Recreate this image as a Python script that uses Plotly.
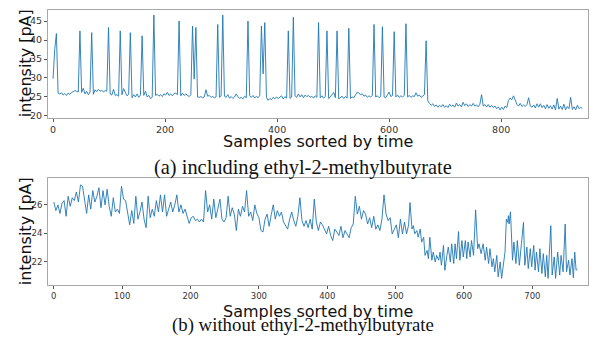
import plotly.graph_objects as go

# ---------------- data: (a) including ethyl-2-methylbutyrate ----------------
# sample index step 3, 0..945
top_step = 3
y_top = [
    29.8, 37.5, 41.7, 26.0, 25.8, 26.1, 25.5, 25.9, 25.4, 26.0,
    25.7, 26.2, 26.4, 26.7, 26.5, 26.3, 42.4, 26.2, 27.3, 25.8,
    26.5, 25.6, 26.3, 41.95, 25.7, 26.9, 26.4, 27.0, 26.5, 26.8,
    26.3, 26.7, 26.5, 43.3, 25.8, 25.5, 27.0, 25.4, 25.6, 25.2,
    42.4, 25.6, 27.2, 26.1, 25.3, 25.7, 41.95, 24.8, 25.6, 25.0,
    25.8, 24.9, 25.5, 41.1, 25.4, 26.5, 25.0, 25.4, 24.6, 24.9,
    46.6, 25.4, 25.7, 25.2, 25.6, 25.1, 25.8, 25.5, 26.2, 25.4,
    25.8, 25.3, 25.9, 26.0, 25.6, 45.0, 25.3, 26.0, 25.4, 25.8,
    25.5, 25.1, 25.6, 43.7, 29.7, 43.3, 25.0, 24.9, 25.1, 24.8,
    25.0, 26.9, 25.2, 25.4, 24.9, 25.1, 24.8, 25.0, 44.1, 24.9,
    25.3, 46.6, 25.2, 24.9, 25.6, 24.7, 25.1, 24.6, 25.0, 25.8,
    25.1, 24.6, 24.9, 24.5, 25.2, 24.8, 45.0, 25.3, 24.9, 25.4,
    24.7, 25.2, 24.8, 25.4, 43.7, 31.1, 44.6, 24.9, 24.1, 24.6,
    24.3, 24.9, 24.5, 25.0, 24.6, 24.9, 25.3, 24.5, 25.1, 24.7,
    42.4, 24.6, 25.0, 46.0, 25.3, 24.9, 25.8, 25.0, 25.6, 24.8,
    25.5, 25.1, 25.4, 24.9, 25.2, 24.7, 25.3, 24.9, 44.6, 24.8,
    25.3, 24.7, 25.1, 42.4, 24.6, 25.0, 25.8, 26.2, 24.8, 42.4,
    24.5, 24.9, 25.2, 24.6, 25.1, 24.7, 43.1, 24.6, 25.0, 24.8,
    25.5, 26.3, 26.0, 25.6, 25.8, 25.2, 25.5, 24.9, 25.3, 25.0,
    25.4, 44.1, 25.0, 25.3, 24.8, 25.1, 43.5, 25.0, 24.8, 25.4,
    26.3, 25.1, 25.4, 42.2, 25.0, 25.5, 24.9, 25.3, 25.0, 25.4,
    44.3, 25.0, 25.4, 24.9, 25.3, 25.1, 26.1, 25.2, 25.5, 24.9,
    25.3, 25.6, 39.8, 24.0, 23.3, 22.8, 23.2, 22.5, 22.9, 22.3,
    22.8, 22.4, 23.0, 22.3, 22.7, 22.2, 23.1, 22.5, 22.9, 22.3,
    23.4, 22.6, 23.0, 22.4, 23.6, 22.7, 23.2, 22.5, 23.0, 22.6,
    23.3, 22.6, 22.9, 22.4, 23.1, 25.6, 22.6, 23.0, 22.4, 23.0,
    22.3, 22.8, 22.2, 22.6, 21.9, 22.4, 21.6, 22.3, 21.7, 22.6,
    22.2, 24.1, 24.7, 24.3, 25.3, 24.0, 23.1, 22.6, 23.3, 22.5,
    22.9, 22.5, 23.0, 24.8, 22.6, 22.3, 22.9, 22.1, 23.2, 22.3,
    23.2, 22.2, 22.8, 21.9, 23.0, 22.0, 22.7, 21.8, 22.9, 21.6,
    24.6, 21.8, 22.6, 21.7, 23.1, 21.6, 22.5, 21.9, 24.9, 21.7,
    22.4, 21.6, 22.8, 21.9, 22.3, 21.9,
]
x_top = [i * top_step for i in range(len(y_top))]

# ---------------- data: (b) without ethyl-2-methylbutyrate ----------------
bot_step = 3
y_bot_a = [
    26.2, 25.6, 26.0, 25.4, 26.1, 26.3, 25.2, 26.6, 25.9, 26.5,
    26.3, 26.9, 26.2, 27.4, 27.3, 26.2, 25.4, 26.7, 25.7, 27.0,
    26.2, 26.6, 27.2, 25.8, 27.0, 26.0, 27.1, 25.9, 25.2, 26.5,
    25.5, 25.7, 25.4, 27.3, 26.4, 26.3, 25.3, 24.6, 25.6, 24.7,
    26.6, 25.0, 25.5, 26.2, 25.0, 24.4, 26.6, 25.1, 25.7, 25.2,
    26.3, 25.5, 26.7, 25.5, 26.7, 25.2, 25.7, 26.2, 25.5, 26.0,
    26.7, 25.5, 26.0, 25.4, 25.7, 25.2, 24.7, 25.1, 25.2, 24.9,
    25.0, 24.8, 25.0, 24.8, 27.0, 25.5, 26.0, 25.0, 26.4, 25.1,
    25.7, 26.4, 25.0, 24.8, 25.1, 26.6, 25.2, 25.8, 25.35, 24.2,
    25.7, 25.2, 25.9, 25.5, 27.0, 25.2, 25.5, 24.9, 26.0, 25.4,
    25.1, 24.2, 24.1, 25.0, 25.35, 24.5, 25.3, 26.0, 25.0, 25.6,
    25.2, 25.5, 24.8, 24.5, 24.3, 25.0, 25.5, 24.9, 24.5, 25.2,
    26.5, 24.9, 24.5, 24.9, 24.4, 25.0, 24.3, 26.4, 24.8, 24.2,
    24.8, 24.6, 24.3, 23.96, 24.5, 23.85, 23.5, 24.3, 24.1, 23.85,
    24.5, 23.7, 24.2, 23.9, 23.7, 24.4, 24.66, 26.6, 25.35, 25.9,
    25.0, 25.6, 25.35, 24.66, 25.1, 24.4, 25.2, 24.3, 24.6, 24.2,
    25.0, 26.7, 25.35, 24.9, 25.1, 23.96, 24.3, 24.6, 23.7, 25.0,
    23.96,
]
x_bot_a = [i * bot_step for i in range(len(y_bot_a))]

x_bot_b = [
    513, 516, 519, 521, 524, 526, 528, 531, 533, 536,
    538, 541, 543, 546, 548, 550, 553, 555, 558, 560,
    563, 565, 567, 570, 572, 575, 577, 580, 582, 585,
    587, 589, 592, 594, 597, 599, 602, 604, 606, 609,
    611, 614, 617, 620, 622, 625, 628, 631, 633, 636,
    638, 641, 643, 645, 648, 650, 653, 655, 658, 660,
    662, 664, 665, 666, 668, 671, 673, 676, 678, 681,
    684, 687, 689, 692, 694, 697, 699, 702, 704, 706,
    709, 711, 714, 716, 719, 721, 723, 727, 729, 732,
    734, 737, 740, 742, 745, 748, 750, 753, 755, 758,
    760, 762, 764, 766,
]
y_bot_b = [
    24.8, 23.96, 24.6, 26.16, 24.31, 24.54, 23.97, 24.2, 23.73, 24.31,
    23.39, 23.73, 22.46, 22.81, 22.23, 23.73, 22.12, 22.69, 22.0, 22.46,
    22.12, 22.69, 21.77, 23.16, 21.42, 22.46, 23.04, 22.0, 23.27, 21.89,
    23.27, 22.23, 24.13, 22.12, 23.5, 22.35, 23.5, 22.23, 23.39, 22.35,
    23.5, 22.46, 25.65, 22.93, 23.27, 22.58, 23.27, 22.12, 23.04, 21.89,
    22.93, 21.66, 22.23, 21.31, 22.46, 20.96, 22.0, 20.85, 22.23, 22.69,
    25.0, 24.77, 25.24, 24.66, 25.51, 22.12, 23.39, 21.89, 23.5, 21.77,
    23.27, 24.77, 21.77, 23.04, 21.54, 22.93, 21.66, 23.16, 21.42, 22.69,
    21.31, 22.93, 21.19, 22.58, 20.96, 22.46, 20.85, 24.54, 21.08, 22.35,
    20.85, 22.69, 21.08, 22.46, 21.31, 24.66, 21.31, 22.12, 21.08, 22.23,
    20.89, 22.69, 21.42, 21.5,
]
x_bot = x_bot_a + x_bot_b
y_bot = y_bot_a + y_bot_b

top_xticks = [0, 200, 400, 600, 800]
top_yticks = [20, 25, 30, 35, 40, 45]
bot_xticks = [0, 100, 200, 300, 400, 500, 600, 700]
bot_yticks = [22, 24, 26]

ylabel = "intensity [pA]"
xlabel = "Samples sorted by time"
caption_a = "(a) including ethyl-2-methylbutyrate"
caption_b = "(b) without ethyl-2-methylbutyrate"

# ---------------- figure ----------------
W, H = 593, 343
LINE = "#1f77b4"
FRAME = "#a8a8a8"
TICKFONT = "DejaVu Sans"


def px(x):
    return x / W


def py(y):
    return 1 - y / H


fig = go.Figure()
fig.add_trace(go.Scatter(x=x_top, y=y_top, mode="lines",
                         line=dict(color=LINE, width=0.9), xaxis="x", yaxis="y",
                         hoverinfo="skip"))
fig.add_trace(go.Scatter(x=x_bot, y=y_bot, mode="lines",
                         line=dict(color=LINE, width=0.9), xaxis="x2", yaxis="y2",
                         hoverinfo="skip"))

axis_common = dict(showgrid=False, zeroline=False, showline=True, mirror=True,
                   linecolor=FRAME, linewidth=1, ticks="outside", ticklen=3,
                   tickcolor="#555", tickwidth=0.8)

fig.update_layout(
    width=W, height=H, margin=dict(l=0, r=0, t=0, b=0),
    paper_bgcolor="white", plot_bgcolor="white", showlegend=False,
    xaxis=dict(domain=[px(48), px(588)], range=[-9, 955], anchor="y",
               tickvals=top_xticks, tickfont=dict(family=TICKFONT, size=9.5, color="#333"),
               **axis_common),
    yaxis=dict(domain=[py(119), py(10)], range=[19.56, 47.94], anchor="x",
               tickvals=top_yticks, tickfont=dict(family=TICKFONT, size=9.5, color="#333"),
               **axis_common),
    xaxis2=dict(domain=[px(48), px(588)], range=[-8.5, 781.4], anchor="y2",
                tickvals=bot_xticks, tickfont=dict(family=TICKFONT, size=8.5, color="#333"),
                **axis_common),
    yaxis2=dict(domain=[py(288), py(180)], range=[20.41, 27.89], anchor="x2",
                tickvals=bot_yticks, tickfont=dict(family=TICKFONT, size=8.5, color="#333"),
                **axis_common),
)

ann = []
for (yc) in (64, 234):
    ann.append(dict(text=ylabel, x=px(25), y=py(yc), xref="paper", yref="paper",
                    showarrow=False, textangle=-90, xanchor="center", yanchor="middle",
                    font=dict(family="DejaVu Sans", size=16, color="#111")))
for yc in (143.5, 315):
    ann.append(dict(text=xlabel, x=px(318), y=py(yc), xref="paper", yref="paper",
                    showarrow=False, xanchor="center", yanchor="middle",
                    font=dict(family="DejaVu Sans", size=16, color="#111")))
for text, yc, fs in ((caption_a, 169.5, 20.4), (caption_b, 328.5, 18.8)):
    ann.append(dict(text=text, x=px(302.5), y=py(yc), xref="paper", yref="paper",
                    showarrow=False, xanchor="center", yanchor="middle",
                    font=dict(family="Liberation Serif", size=fs, color="#111")))
fig.update_layout(annotations=ann)

fig.write_html("out.html")
